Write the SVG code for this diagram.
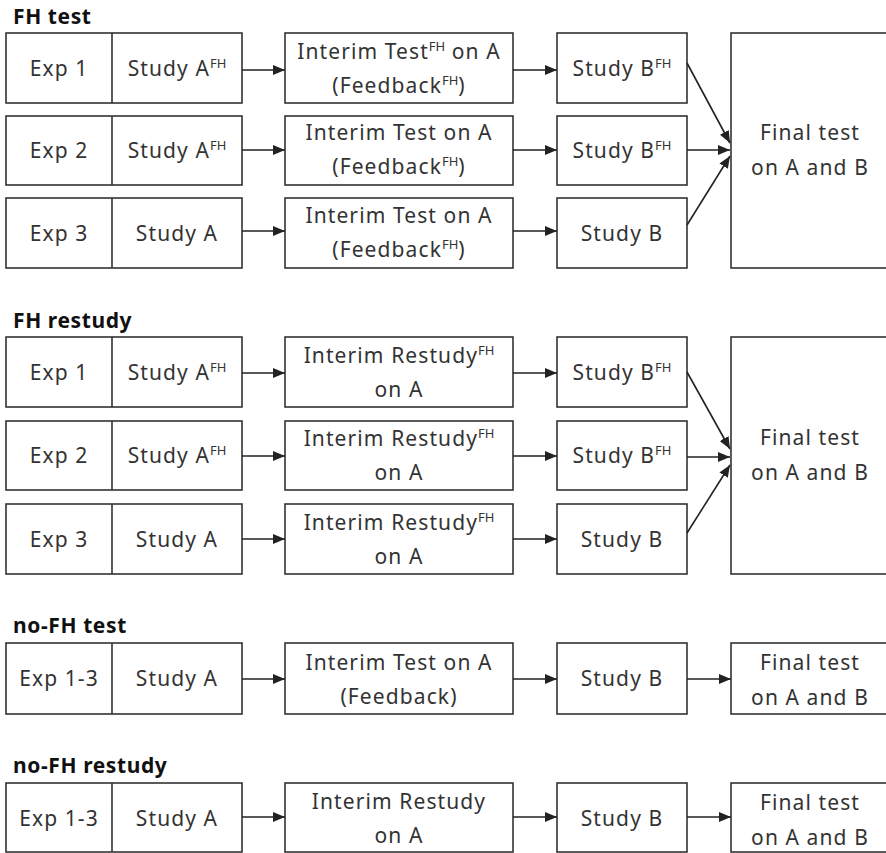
<svg xmlns="http://www.w3.org/2000/svg" width="886" height="853" viewBox="0 0 886 853">
<style>
.bx{fill:#fff;stroke:#333;stroke-width:1.6}
.dv{stroke:#333;stroke-width:1.6}
.t{font-family:"Noto Sans","Open Sans","DejaVu Sans",sans-serif;font-size:21px;letter-spacing:1.1px;fill:#333;text-anchor:middle}
.h{font-family:"Noto Sans","Open Sans","DejaVu Sans",sans-serif;font-size:21px;font-weight:bold;fill:#111;letter-spacing:0.6px}
.s{font-size:13px;letter-spacing:0}
.c{stroke:#222;stroke-width:1.6;fill:none;marker-end:url(#ah)}
</style>
<defs>
<marker id="ah" markerUnits="userSpaceOnUse" markerWidth="12" markerHeight="10" refX="12" refY="5" orient="auto">
<path d="M0,0 L12,5 L0,10 z" fill="#222"/>
</marker>
</defs>
<rect width="886" height="853" fill="#fff"/>

<!-- Section titles -->
<text class="h" x="13" y="24">FH test</text>
<text class="h" x="13" y="328">FH restudy</text>
<text class="h" x="13" y="633">no-FH test</text>
<text class="h" x="13" y="773">no-FH restudy</text>

<!-- FH test -->
<g id="fht-exp1"><rect class="bx" x="6" y="33" width="236" height="70"/><line class="dv" x1="112" y1="33" x2="112" y2="103"/>
<text class="t" x="59" y="76">Exp 1</text><text class="t" x="177" y="76">Study A<tspan class="s" dy="-8">FH</tspan></text></g>
<g id="fht-exp2"><rect class="bx" x="6" y="116" width="236" height="69"/><line class="dv" x1="112" y1="116" x2="112" y2="185"/>
<text class="t" x="59" y="158">Exp 2</text><text class="t" x="177" y="158">Study A<tspan class="s" dy="-8">FH</tspan></text></g>
<g id="fht-exp3"><rect class="bx" x="6" y="198" width="236" height="70"/><line class="dv" x1="112" y1="198" x2="112" y2="268"/>
<text class="t" x="59" y="241">Exp 3</text><text class="t" x="177" y="241">Study A</text></g>

<g id="fht-int1"><rect class="bx" x="285" y="33" width="228" height="70"/>
<text class="t" x="399" y="59">Interim Test<tspan class="s" dy="-8">FH</tspan><tspan dy="8"> on A</tspan></text>
<text class="t" x="399" y="93">(Feedback<tspan class="s" dy="-8">FH</tspan><tspan dy="8">)</tspan></text></g>
<g id="fht-int2"><rect class="bx" x="285" y="116" width="228" height="69"/>
<text class="t" x="399" y="140">Interim Test on A</text>
<text class="t" x="399" y="174">(Feedback<tspan class="s" dy="-8">FH</tspan><tspan dy="8">)</tspan></text></g>
<g id="fht-int3"><rect class="bx" x="285" y="198" width="228" height="70"/>
<text class="t" x="399" y="223">Interim Test on A</text>
<text class="t" x="399" y="257">(Feedback<tspan class="s" dy="-8">FH</tspan><tspan dy="8">)</tspan></text></g>

<g id="fht-sb1"><rect class="bx" x="557" y="33" width="130" height="70"/>
<text class="t" x="622" y="76">Study B<tspan class="s" dy="-8">FH</tspan></text></g>
<g id="fht-sb2"><rect class="bx" x="557" y="116" width="130" height="69"/>
<text class="t" x="622" y="158">Study B<tspan class="s" dy="-8">FH</tspan></text></g>
<g id="fht-sb3"><rect class="bx" x="557" y="198" width="130" height="70"/>
<text class="t" x="622" y="241">Study B</text></g>

<g id="fht-final"><rect class="bx" x="731" y="33" width="160" height="235"/>
<text class="t" x="810" y="140">Final test</text>
<text class="t" x="810" y="175">on A and B</text></g>

<!-- FH restudy -->
<g id="fhr-exp1"><rect class="bx" x="6" y="337" width="236" height="70"/><line class="dv" x1="112" y1="337" x2="112" y2="407"/>
<text class="t" x="59" y="380">Exp 1</text><text class="t" x="177" y="380">Study A<tspan class="s" dy="-8">FH</tspan></text></g>
<g id="fhr-exp2"><rect class="bx" x="6" y="421" width="236" height="69"/><line class="dv" x1="112" y1="421" x2="112" y2="490"/>
<text class="t" x="59" y="463">Exp 2</text><text class="t" x="177" y="463">Study A<tspan class="s" dy="-8">FH</tspan></text></g>
<g id="fhr-exp3"><rect class="bx" x="6" y="504" width="236" height="70"/><line class="dv" x1="112" y1="504" x2="112" y2="574"/>
<text class="t" x="59" y="547">Exp 3</text><text class="t" x="177" y="547">Study A</text></g>

<g id="fhr-int1"><rect class="bx" x="285" y="337" width="228" height="70"/>
<text class="t" x="399" y="363">Interim Restudy<tspan class="s" dy="-8">FH</tspan></text>
<text class="t" x="399" y="397">on A</text></g>
<g id="fhr-int2"><rect class="bx" x="285" y="421" width="228" height="69"/>
<text class="t" x="399" y="446">Interim Restudy<tspan class="s" dy="-8">FH</tspan></text>
<text class="t" x="399" y="480">on A</text></g>
<g id="fhr-int3"><rect class="bx" x="285" y="504" width="228" height="70"/>
<text class="t" x="399" y="530">Interim Restudy<tspan class="s" dy="-8">FH</tspan></text>
<text class="t" x="399" y="564">on A</text></g>

<g id="fhr-sb1"><rect class="bx" x="557" y="337" width="130" height="70"/>
<text class="t" x="622" y="380">Study B<tspan class="s" dy="-8">FH</tspan></text></g>
<g id="fhr-sb2"><rect class="bx" x="557" y="421" width="130" height="69"/>
<text class="t" x="622" y="463">Study B<tspan class="s" dy="-8">FH</tspan></text></g>
<g id="fhr-sb3"><rect class="bx" x="557" y="504" width="130" height="70"/>
<text class="t" x="622" y="547">Study B</text></g>

<g id="fhr-final"><rect class="bx" x="731" y="337" width="160" height="237"/>
<text class="t" x="810" y="445">Final test</text>
<text class="t" x="810" y="480">on A and B</text></g>

<!-- no-FH test -->
<g id="nft-exp"><rect class="bx" x="6" y="643" width="236" height="71"/><line class="dv" x1="112" y1="643" x2="112" y2="714"/>
<text class="t" x="59" y="686">Exp 1-3</text><text class="t" x="177" y="686">Study A</text></g>
<g id="nft-int"><rect class="bx" x="285" y="643" width="228" height="71"/>
<text class="t" x="399" y="670">Interim Test on A</text>
<text class="t" x="399" y="704">(Feedback)</text></g>
<g id="nft-sb"><rect class="bx" x="557" y="643" width="130" height="71"/>
<text class="t" x="622" y="686">Study B</text></g>
<g id="nft-final"><rect class="bx" x="731" y="643" width="160" height="71"/>
<text class="t" x="810" y="670">Final test</text>
<text class="t" x="810" y="705">on A and B</text></g>

<!-- no-FH restudy -->
<g id="nfr-exp"><rect class="bx" x="6" y="783" width="236" height="69"/><line class="dv" x1="112" y1="783" x2="112" y2="852"/>
<text class="t" x="59" y="826">Exp 1-3</text><text class="t" x="177" y="826">Study A</text></g>
<g id="nfr-int"><rect class="bx" x="285" y="783" width="228" height="69"/>
<text class="t" x="399" y="809">Interim Restudy</text>
<text class="t" x="399" y="843">on A</text></g>
<g id="nfr-sb"><rect class="bx" x="557" y="783" width="130" height="69"/>
<text class="t" x="622" y="826">Study B</text></g>
<g id="nfr-final"><rect class="bx" x="731" y="783" width="160" height="69"/>
<text class="t" x="810" y="810">Final test</text>
<text class="t" x="810" y="845">on A and B</text></g>

<!-- connectors -->
<g id="connectors">
<line class="c" x1="242" y1="70" x2="285" y2="70"/>
<line class="c" x1="513" y1="70" x2="557" y2="70"/>
<line class="c" x1="242" y1="150" x2="285" y2="150"/>
<line class="c" x1="513" y1="150" x2="557" y2="150"/>
<line class="c" x1="242" y1="231" x2="285" y2="231"/>
<line class="c" x1="513" y1="231" x2="557" y2="231"/>
<line class="c" x1="687" y1="63" x2="730" y2="143"/>
<line class="c" x1="687" y1="150" x2="730" y2="150"/>
<line class="c" x1="687" y1="225" x2="730" y2="156"/>

<line class="c" x1="242" y1="373" x2="285" y2="373"/>
<line class="c" x1="513" y1="373" x2="557" y2="373"/>
<line class="c" x1="242" y1="456" x2="285" y2="456"/>
<line class="c" x1="513" y1="456" x2="557" y2="456"/>
<line class="c" x1="242" y1="539" x2="285" y2="539"/>
<line class="c" x1="513" y1="539" x2="557" y2="539"/>
<line class="c" x1="687" y1="372" x2="730" y2="449"/>
<line class="c" x1="687" y1="457" x2="730" y2="457"/>
<line class="c" x1="687" y1="533" x2="730" y2="465"/>

<line class="c" x1="242" y1="679" x2="285" y2="679"/>
<line class="c" x1="513" y1="679" x2="557" y2="679"/>
<line class="c" x1="687" y1="679" x2="731" y2="679"/>

<line class="c" x1="242" y1="817" x2="285" y2="817"/>
<line class="c" x1="513" y1="817" x2="557" y2="817"/>
<line class="c" x1="687" y1="817" x2="731" y2="817"/>
</g>
</svg>
